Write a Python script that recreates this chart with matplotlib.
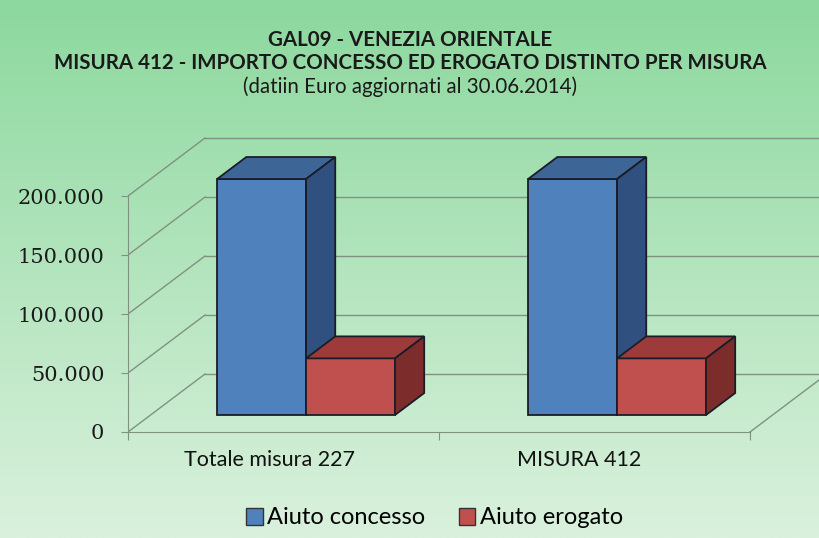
import numpy as np
import matplotlib
matplotlib.use("Agg")
import matplotlib.pyplot as plt
from matplotlib.patches import Polygon, Patch
from matplotlib.ticker import FuncFormatter

# data
categories = ["Totale misura 227", "MISURA 412"]
series_names = ["Aiuto concesso", "Aiuto erogato"]
aiuto_concesso = [200000, 200000]
aiuto_erogato = [48000, 48000]
y_ticks = [0, 50000, 100000, 150000, 200000]

title_lines = [
    "GAL09 - VENEZIA ORIENTALE",
    "MISURA 412 - IMPORTO CONCESSO ED EROGATO DISTINTO PER MISURA",
    "(datiin Euro aggiornati al 30.06.2014)",
]

# colours: front, top, side
blue = ("#4f81bd", "#3d6596", "#30507f")
red = ("#c0504d", "#9c3b39", "#7c2d2b")
edge = "#1c1c28"
grid_col = "#7f9282"

# pseudo-3d geometry (depth vector in data units)
DX, DY = 0.2476, 49150
f_front, f_back = 0.293, 0.672
bar_w = 0.286

fig = plt.figure(figsize=(8.2, 5.38), dpi=100)

# background gradient
bg = fig.add_axes([0, 0, 1, 1], zorder=-10)
top = np.array([0x8c, 0xd8, 0x9e]) / 255
bot = np.array([0xda, 0xf1, 0xdd]) / 255
t = np.linspace(0, 1, 256)[:, None]
grad = top[None, :] * (1 - t) + bot[None, :] * t
bg.imshow(grad[:, None, :].repeat(2, axis=1), aspect="auto", extent=[0, 1, 0, 1])
bg.axis("off")

ax = fig.add_axes([128 / 820, 93 / 538, 692 / 820, 325 / 538])
ax.set_facecolor("none")
ax.set_xlim(0, 692 / 311)
ax.set_ylim(-11017, 264407)

# walls / gridlines
for v in y_ticks:
    ax.plot([0, DX], [v, v + DY], color=grid_col, lw=1, zorder=1)
    ax.plot([DX, 2 + DX], [v + DY, v + DY], color=grid_col, lw=1, zorder=1)
ax.plot([2, 2 + DX], [0, DY], color=grid_col, lw=1, zorder=1)


def draw_bar(x0, val, cols):
    xf = x0 + f_front * DX
    yf = f_front * DY
    ddx = (f_back - f_front) * DX
    ddy = (f_back - f_front) * DY
    ax.bar(xf, val, bar_w, bottom=yf, align="edge", color=cols[0],
           edgecolor=edge, linewidth=1.3, zorder=3)
    top_face = [(xf, yf + val), (xf + bar_w, yf + val),
                (xf + bar_w + ddx, yf + val + ddy), (xf + ddx, yf + val + ddy)]
    side_face = [(xf + bar_w, yf), (xf + bar_w + ddx, yf + ddy),
                 (xf + bar_w + ddx, yf + val + ddy), (xf + bar_w, yf + val)]
    for pts, c in ((top_face, cols[1]), (side_face, cols[2])):
        ax.add_patch(Polygon(pts, closed=True, facecolor=c, edgecolor=edge,
                             linewidth=1.3, zorder=3))


for i in range(len(categories)):
    draw_bar(i + 0.5 - bar_w, aiuto_concesso[i], blue)
    draw_bar(i + 0.5, aiuto_erogato[i], red)

# axes styling
for s in ["top", "right"]:
    ax.spines[s].set_visible(False)
ax.spines["left"].set_bounds(0, 200000)
ax.spines["left"].set_color(grid_col)
ax.spines["bottom"].set_position(("data", 0))
ax.spines["bottom"].set_bounds(0, 2)
ax.spines["bottom"].set_color(grid_col)

ax.set_yticks(y_ticks)
ax.yaxis.set_major_formatter(FuncFormatter(lambda v, p: f"{v:,.0f}".replace(",", ".")))
ax.tick_params(axis="y", length=5, color=grid_col, pad=12, labelsize=15,
               labelcolor="#1a1a1a")
for lab in ax.get_yticklabels():
    lab.set_family("DejaVu Serif")

ax.set_xticks([0, 1, 2])
ax.set_xticklabels(["", "", ""])
ax.tick_params(axis="x", which="major", length=6, color=grid_col)
ax.set_xticks([0.455, 1.45], minor=True)
ax.set_xticklabels(categories, minor=True, fontsize=15.5, family="Lato", color="#111111")
ax.tick_params(axis="x", which="minor", length=0, pad=13)

# titles
ys = [40, 63, 87]
for line, y, w in zip(title_lines, ys, ["bold", "bold", "normal"]):
    fig.text(0.5, 1 - y / 538, line, ha="center", va="center", fontsize=14.8,
             fontweight=w, family="Lato", color="#1a1a1a")

handles = [Patch(facecolor=blue[0], edgecolor="#333333"),
           Patch(facecolor=red[0], edgecolor="#333333")]
fig.legend(handles, series_names, loc="center", bbox_to_anchor=(0.53, 20 / 538),
           ncol=2, frameon=False, prop={"family": "Lato", "size": 17},
           handlelength=0.7, handleheight=0.7, handletextpad=0.2, columnspacing=1.4)

fig.savefig("out.png", dpi=100)
